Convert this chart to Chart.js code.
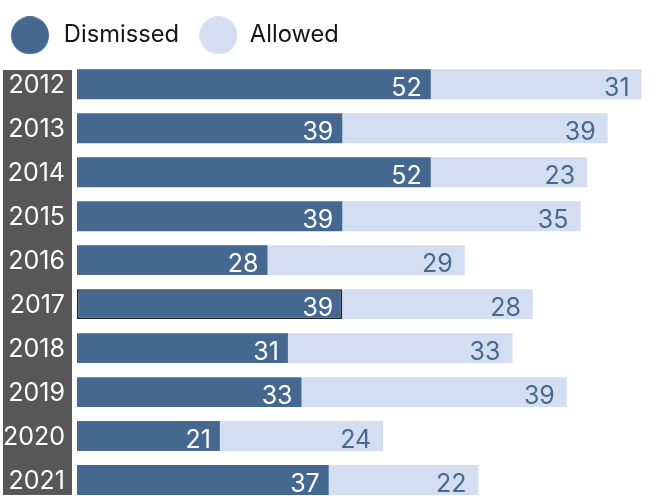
<!DOCTYPE html>
<html>
<head>
<meta charset="utf-8">
<script src="https://cdn.jsdelivr.net/npm/chart.js@4.4.1/dist/chart.umd.min.js"></script>
<style>
  html, body { margin: 0; padding: 0; background: #ffffff; overflow: hidden; }
  canvas { display: block; }
</style>
</head>
<body>
<canvas id="c" width="664" height="529"></canvas>
<script>
const years = ['2012','2013','2014','2015','2016','2017','2018','2019','2020','2021'];
const dismissed = [52, 39, 52, 39, 28, 39, 31, 33, 21, 37];
const allowed = [31, 39, 23, 35, 29, 28, 33, 39, 24, 22];
const seriesNames = ['Dismissed', 'Allowed'];

const DARK = '#44688f';
const LIGHT = '#d3dff0';
const FONT = 'Inter, "Open Sans", sans-serif';

function circleImg(color, w, cx) {
  const c = document.createElement('canvas');
  c.width = w; c.height = 38;
  const g = c.getContext('2d');
  g.fillStyle = color;
  g.beginPath(); g.arc(cx, 19, 19, 0, Math.PI * 2); g.fill();
  return c;
}
const dots = [circleImg(DARK, 43, 19), circleImg(LIGHT, 38, 19)];

const bgColumn = {
  id: 'bgColumn',
  beforeLayout(chart) {
    const lg = chart.legend;
    if (lg && !lg._patched) {
      const orig = lg.fit.bind(lg);
      lg.fit = function () { orig(); this.height = 58.8; };
      lg._patched = true;
    }
  },
  beforeDraw(chart) {
    const meta = chart.getDatasetMeta(0);
    if (!meta.data.length) return;
    const first = meta.data[0], last = meta.data[meta.data.length - 1];
    const top = first.y - first.height / 2 + 0.7;
    const bottom = last.y + last.height / 2;
    const ctx = chart.ctx;
    ctx.save();
    ctx.fillStyle = '#575757';
    ctx.fillRect(3, top, 69, bottom - top);
    ctx.restore();
  }
};

const valueLabels = {
  id: 'valueLabels',
  afterDatasetsDraw(chart) {
    const ctx = chart.ctx;
    ctx.save();
    ctx.font = '400 25px ' + FONT;
    ctx.textAlign = 'right';
    ctx.textBaseline = 'alphabetic';
    chart.data.datasets.forEach((ds, di) => {
      const meta = chart.getDatasetMeta(di);
      meta.data.forEach((bar, i) => {
        ctx.fillStyle = di === 0 ? '#ffffff' : '#48698f';
        const pad = di === 0 ? 9 : 12;
        ctx.fillText(String(ds.data[i]), bar.x - pad, bar.y + 11.5);
      });
    });
    ctx.restore();
  }
};

new Chart(document.getElementById('c'), {
  type: 'bar',
  data: {
    labels: years,
    datasets: [
      {
        label: seriesNames[0],
        data: dismissed,
        backgroundColor: DARK,
        borderColor: years.map((_, i) => i === 5 ? '#1e1e1e' : DARK),
        borderWidth: years.map((_, i) => i === 5 ? 1.5 : 0),
        borderSkipped: false,
        pointStyle: dots[0]
      },
      {
        label: seriesNames[1],
        data: allowed,
        backgroundColor: LIGHT,
        borderWidth: 0,
        pointStyle: dots[1]
      }
    ]
  },
  options: {
    indexAxis: 'y',
    responsive: false,
    maintainAspectRatio: false,
    animation: false,
    events: [],
    datasets: { bar: { categoryPercentage: 1, barPercentage: 0.68 } },
    layout: { padding: { top: 3.5, right: 22.3, bottom: 0, left: -7 } },
    scales: {
      x: { stacked: true, display: false, min: 0, max: 83 },
      y: {
        stacked: true,
        grid: { display: false, drawTicks: false },
        border: { display: false },
        ticks: {
          color: '#ffffff',
          font: { family: FONT, size: 25 },
          padding: 12,
          labelOffset: 1.5
        },
        afterFit(scale) { scale.width = 84; }
      }
    },
    plugins: {
      tooltip: { enabled: false },
      legend: {
        position: 'top',
        align: 'start',
        labels: {
          usePointStyle: true,
          pointStyleWidth: 39,
          padding: 20,
          color: '#151515',
          font: { family: FONT, size: 23.7 }
        }
      }
    }
  },
  plugins: [bgColumn, valueLabels]
});
</script>
</body>
</html>
